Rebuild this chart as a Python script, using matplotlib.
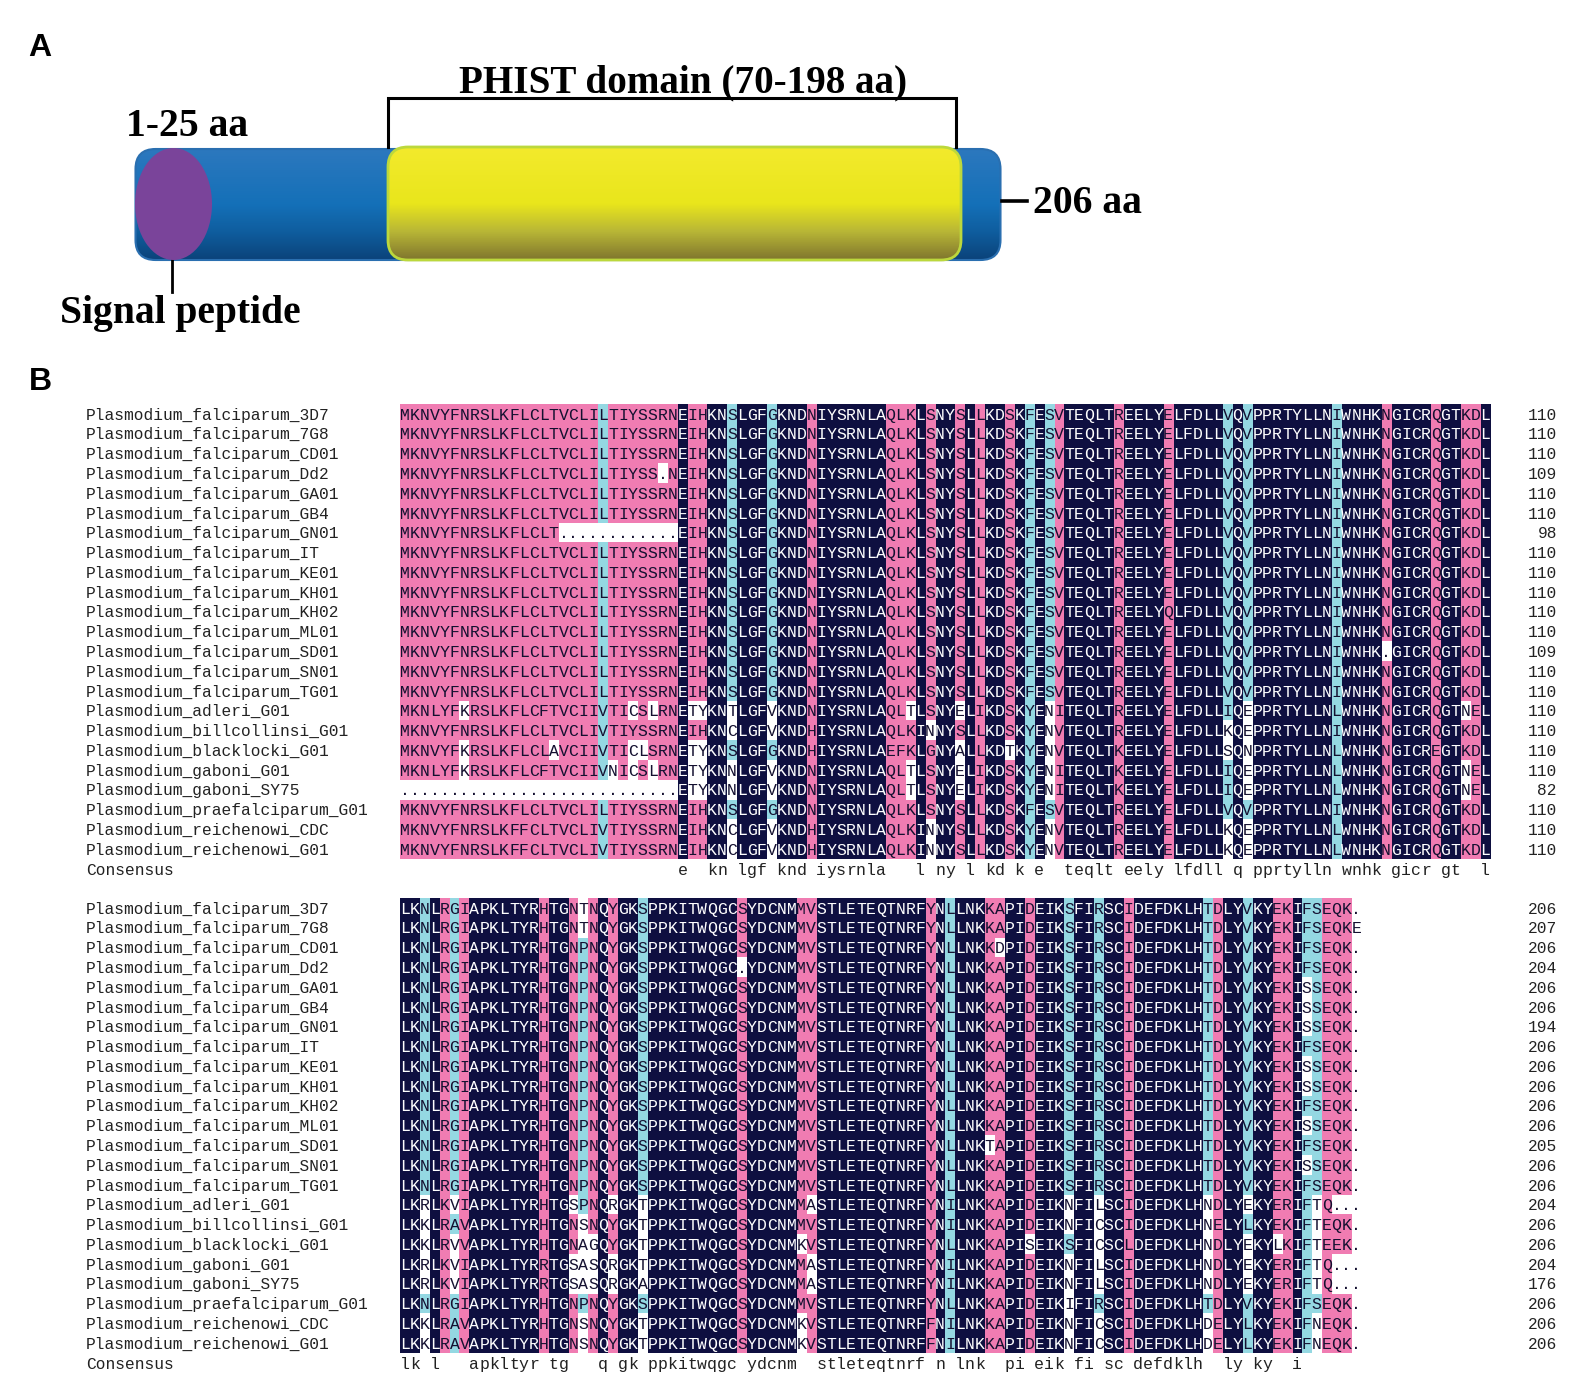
import numpy as np
import matplotlib
matplotlib.use("Agg")
import matplotlib.pyplot as plt
from matplotlib.colors import ListedColormap, LinearSegmentedColormap
from matplotlib.patches import FancyBboxPatch, Ellipse
from collections import Counter

W, H = 1579, 1392

names = ["Plasmodium_falciparum_3D7", "Plasmodium_falciparum_7G8", "Plasmodium_falciparum_CD01",
         "Plasmodium_falciparum_Dd2", "Plasmodium_falciparum_GA01", "Plasmodium_falciparum_GB4",
         "Plasmodium_falciparum_GN01", "Plasmodium_falciparum_IT", "Plasmodium_falciparum_KE01",
         "Plasmodium_falciparum_KH01", "Plasmodium_falciparum_KH02", "Plasmodium_falciparum_ML01",
         "Plasmodium_falciparum_SD01", "Plasmodium_falciparum_SN01", "Plasmodium_falciparum_TG01",
         "Plasmodium_adleri_G01", "Plasmodium_billcollinsi_G01", "Plasmodium_blacklocki_G01",
         "Plasmodium_gaboni_G01", "Plasmodium_gaboni_SY75", "Plasmodium_praefalciparum_G01",
         "Plasmodium_reichenowi_CDC", "Plasmodium_reichenowi_G01"]

seqs_1 = [
    "MKNVYFNRSLKFLCLTVCLILTIYSSRNEIHKNSLGFGKNDNIYSRNLAQLKLSNYSLLKDSKFESVTEQLTREELYELFDLLVQVPPRTYLLNIWNHKNGICRQGTKDL",
    "MKNVYFNRSLKFLCLTVCLILTIYSSRNEIHKNSLGFGKNDNIYSRNLAQLKLSNYSLLKDSKFESVTEQLTREELYELFDLLVQVPPRTYLLNIWNHKNGICRQGTKDL",
    "MKNVYFNRSLKFLCLTVCLILTIYSSRNEIHKNSLGFGKNDNIYSRNLAQLKLSNYSLLKDSKFESVTEQLTREELYELFDLLVQVPPRTYLLNIWNHKNGICRQGTKDL",
    "MKNVYFNRSLKFLCLTVCLILTIYSS.NEIHKNSLGFGKNDNIYSRNLAQLKLSNYSLLKDSKFESVTEQLTREELYELFDLLVQVPPRTYLLNIWNHKNGICRQGTKDL",
    "MKNVYFNRSLKFLCLTVCLILTIYSSRNEIHKNSLGFGKNDNIYSRNLAQLKLSNYSLLKDSKFESVTEQLTREELYELFDLLVQVPPRTYLLNIWNHKNGICRQGTKDL",
    "MKNVYFNRSLKFLCLTVCLILTIYSSRNEIHKNSLGFGKNDNIYSRNLAQLKLSNYSLLKDSKFESVTEQLTREELYELFDLLVQVPPRTYLLNIWNHKNGICRQGTKDL",
    "MKNVYFNRSLKFLCLT............EIHKNSLGFGKNDNIYSRNLAQLKLSNYSLLKDSKFESVTEQLTREELYELFDLLVQVPPRTYLLNIWNHKNGICRQGTKDL",
    "MKNVYFNRSLKFLCLTVCLILTIYSSRNEIHKNSLGFGKNDNIYSRNLAQLKLSNYSLLKDSKFESVTEQLTREELYELFDLLVQVPPRTYLLNIWNHKNGICRQGTKDL",
    "MKNVYFNRSLKFLCLTVCLILTIYSSRNEIHKNSLGFGKNDNIYSRNLAQLKLSNYSLLKDSKFESVTEQLTREELYELFDLLVQVPPRTYLLNIWNHKNGICRQGTKDL",
    "MKNVYFNRSLKFLCLTVCLILTIYSSRNEIHKNSLGFGKNDNIYSRNLAQLKLSNYSLLKDSKFESVTEQLTREELYELFDLLVQVPPRTYLLNIWNHKNGICRQGTKDL",
    "MKNVYFNRSLKFLCLTVCLILTIYSSRNEIHKNSLGFGKNDNIYSRNLAQLKLSNYSLLKDSKFESVTEQLTREELYQLFDLLVQVPPRTYLLNIWNHKNGICRQGTKDL",
    "MKNVYFNRSLKFLCLTVCLILTIYSSRNEIHKNSLGFGKNDNIYSRNLAQLKLSNYSLLKDSKFESVTEQLTREELYELFDLLVQVPPRTYLLNIWNHKNGICRQGTKDL",
    "MKNVYFNRSLKFLCLTVCLILTIYSSRNEIHKNSLGFGKNDNIYSRNLAQLKLSNYSLLKDSKFESVTEQLTREELYELFDLLVQVPPRTYLLNIWNHK.GICRQGTKDL",
    "MKNVYFNRSLKFLCLTVCLILTIYSSRNEIHKNSLGFGKNDNIYSRNLAQLKLSNYSLLKDSKFESVTEQLTREELYELFDLLVQVPPRTYLLNIWNHKNGICRQGTKDL",
    "MKNVYFNRSLKFLCLTVCLILTIYSSRNEIHKNSLGFGKNDNIYSRNLAQLKLSNYSLLKDSKFESVTEQLTREELYELFDLLVQVPPRTYLLNIWNHKNGICRQGTKDL",
    "MKNLYFKRSLKFLCFTVCIIVTICSLRNETYKNTLGFVKNDNIYSRNLAQLTLSNYELIKDSKYENITEQLTREELYELFDLLIQEPPRTYLLNLWNHKNGICRQGTNEL",
    "MKNVYFNRSLKFLCLTVCLIVTIYSSRNEIHKNCLGFVKNDHIYSRNLAQLKINNYSLLKDSKYENVTEQLTREELYELFDLLKQEPPRTYLLNIWNHKNGICRQGTKDL",
    "MKNVYFKRSLKFLCLAVCIIVTICLSRNETYKNSLGFGKNDHIYSRNLAEFKLGNYALLKDTKYENVTEQLTKEELYELFDLLSQNPPRTYLLNLWNHKNGICREGTKDL",
    "MKNLYFKRSLKFLCFTVCIIVNICSLRNETYKNNLGFVKNDNIYSRNLAQLTLSNYELIKDSKYENITEQLTKEELYELFDLLIQEPPRTYLLNLWNHKNGICRQGTNEL",
    "............................ETYKNNLGFVKNDNIYSRNLAQLTLSNYELIKDSKYENITEQLTKEELYELFDLLIQEPPRTYLLNLWNHKNGICRQGTNEL",
    "MKNVYFNRSLKFLCLTVCLILTIYSSRNEIHKNSLGFGKNDNIYSRNLAQLKLSNYSLLKDSKFESVTEQLTREELYELFDLLVQVPPRTYLLNIWNHKNGICRQGTKDL",
    "MKNVYFNRSLKFFCLTVCLIVTIYSSRNEIHKNCLGFVKNDHIYSRNLAQLKINNYSLLKDSKYENVTEQLTREELYELFDLLKQEPPRTYLLNLWNHKNGICRQGTKDL",
    "MKNVYFNRSLKFFCLTVCLIVTIYSSRNEIHKNCLGFVKNDHIYSRNLAQLKINNYSLLKDSKYENVTEQLTREELYELFDLLKQEPPRTYLLNLWNHKNGICRQGTKDL",
]

seqs_2 = [
    "LKNLRGIAPKLTYRHTGNTNQYGKSPPKITWQGCSYDCNMMVSTLETEQTNRFYNLLNKKAPIDEIKSFIRSCIDEFDKLHTDLYVKYEKIFSEQK.",
    "LKNLRGIAPKLTYRHTGNTNQYGKSPPKITWQGCSYDCNMMVSTLETEQTNRFYNLLNKKAPIDEIKSFIRSCIDEFDKLHTDLYVKYEKIFSEQKE",
    "LKNLRGIAPKLTYRHTGNPNQYGKSPPKITWQGCSYDCNMMVSTLETEQTNRFYNLLNKKDPIDEIKSFIRSCIDEFDKLHTDLYVKYEKIFSEQK.",
    "LKNLRGIAPKLTYRHTGNPNQYGKSPPKITWQGC.YDCNMMVSTLETEQTNRFYNLLNKKAPIDEIKSFIRSCIDEFDKLHTDLYVKYEKIFSEQK.",
    "LKNLRGIAPKLTYRHTGNPNQYGKSPPKITWQGCSYDCNMMVSTLETEQTNRFYNLLNKKAPIDEIKSFIRSCIDEFDKLHTDLYVKYEKISSEQK.",
    "LKNLRGIAPKLTYRHTGNPNQYGKSPPKITWQGCSYDCNMMVSTLETEQTNRFYNLLNKKAPIDEIKSFIRSCIDEFDKLHTDLYVKYEKISSEQK.",
    "LKNLRGIAPKLTYRHTGNPNQYGKSPPKITWQGCSYDCNMMVSTLETEQTNRFYNLLNKKAPIDEIKSFIRSCIDEFDKLHTDLYVKYEKISSEQK.",
    "LKNLRGIAPKLTYRHTGNPNQYGKSPPKITWQGCSYDCNMMVSTLETEQTNRFYNLLNKKAPIDEIKSFIRSCIDEFDKLHTDLYVKYEKIFSEQK.",
    "LKNLRGIAPKLTYRHTGNPNQYGKSPPKITWQGCSYDCNMMVSTLETEQTNRFYNLLNKKAPIDEIKSFIRSCIDEFDKLHTDLYVKYEKISSEQK.",
    "LKNLRGIAPKLTYRHTGNPNQYGKSPPKITWQGCSYDCNMMVSTLETEQTNRFYNLLNKKAPIDEIKSFIRSCIDEFDKLHTDLYVKYEKISSEQK.",
    "LKNLRGIAPKLTYRHTGNPNQYGKSPPKITWQGCSYDCNMMVSTLETEQTNRFYNLLNKKAPIDEIKSFIRSCIDEFDKLHTDLYVKYEKIFSEQK.",
    "LKNLRGIAPKLTYRHTGNPNQYGKSPPKITWQGCSYDCNMMVSTLETEQTNRFYNLLNKKAPIDEIKSFIRSCIDEFDKLHTDLYVKYEKISSEQK.",
    "LKNLRGIAPKLTYRHTGNPNQYGKSPPKITWQGCSYDCNMMVSTLETEQTNRFYNLLNKTAPIDEIKSFIRSCIDEFDKLHTDLYVKYEKIFSEQK.",
    "LKNLRGIAPKLTYRHTGNPNQYGKSPPKITWQGCSYDCNMMVSTLETEQTNRFYNLLNKKAPIDEIKSFIRSCIDEFDKLHTDLYVKYEKISSEQK.",
    "LKNLRGIAPKLTYRHTGNPNQYGKSPPKITWQGCSYDCNMMVSTLETEQTNRFYNLLNKKAPIDEIKSFIRSCIDEFDKLHTDLYVKYEKIFSEQK.",
    "LKRLKVIAPKLTYRHTGSPNQRGKTPPKITWQGCSYDCNMMASTLETEQTNRFYNILNKKAPIDEIKNFILSCIDEFDKLHNDLYEKYERIFTQ...",
    "LKKLRAVAPKLTYRHTGNSNQYGKTPPKITWQGCSYDCNMMVSTLETEQTNRFYNILNKKAPIDEIKNFICSCIDEFDKLHNELYLKYEKIFTEQK.",
    "LKKLRVVAPKLTYRHTGNAGQYGKTPPKITWQGCSYDCNMKVSTLETEQTNRFYNLLNKKAPISEIKSFICSCLDEFDKLHNDLYEKYLKIFTEEK.",
    "LKRLKVIAPKLTYRRTGSASQRGKTPPKITWQGCSYDCNMMASTLETEQTNRFYNILNKKAPIDEIKNFILSCIDEFDKLHNDLYEKYERIFTQ...",
    "LKRLKVIAPKLTYRRTGSASQRGKAPPKITWQGCSYDCNMMASTLETEQTNRFYNILNKKAPIDEIKNFILSCIDEFDKLHNDLYEKYERIFTQ...",
    "LKNLRGIAPKLTYRHTGNPNQYGKSPPKITWQGCSYDCNMMVSTLETEQTNRFYNLLNKKAPIDEIKIFIRSCIDEFDKLHTDLYVKYEKIFSEQK.",
    "LKKLRAVAPKLTYRHTGNSNQYGKTPPKITWQGCSYDCNMKVSTLETEQTNRFFNILNKKAPIDEIKNFICSCIDEFDKLHDELYLKYEKIFNEQK.",
    "LKKLRAVAPKLTYRHTGNSNQYGKTPPKITWQGCSYDCNMKVSTLETEQTNRFFNILNKKAPIDEIKNFICSCIDEFDKLHDELYLKYEKIFNEQK.",
]

counts_1 = [110, 110, 110, 109, 110, 110, 98, 110, 110, 110, 110, 110, 109, 110, 110, 110, 110, 110, 110, 82, 110, 110, 110]
counts_2 = [206, 207, 206, 204, 206, 206, 194, 206, 206, 206, 206, 206, 205, 206, 206, 204, 206, 206, 204, 176, 206, 206, 206]

# residues shaded together with the commonest one in a column
similar = {"F": "Y", "Y": "F", "N": "H", "H": "R", "R": "K", "K": "R", "L": "FVIM", "V": "LI",
           "I": "LV", "G": "A", "E": "Q", "Q": "E", "D": "E", "S": "G"}

# columns drawn as fully conserved although one residue differs (1-based)
navy_cols_1 = [53]
navy_cols_2 = []

shade = ["#FFFFFF", "#94D8E2", "#F07CB2", "#0E0F40"]
levels_cmap = ListedColormap(shade)


def shade_levels(seqs, navy_cols):
    grid = np.array([list(s) for s in seqs])
    levels = np.zeros(grid.shape, dtype=int)
    consensus = ""
    for c in range(grid.shape[1]):
        col = grid[:, c]
        found = Counter(x for x in col if x != ".")
        top, n = found.most_common(1)[0]
        frac = n / len(col)
        if frac == 1 or c + 1 in navy_cols:
            levels[:, c] = 3
            consensus += top.lower()
            continue
        consensus += " "
        if frac < 0.4:
            continue
        lev = 2 if frac >= 0.75 else 1
        for r, x in enumerate(col):
            if x == top or x in similar.get(top, ""):
                levels[r, c] = lev
    return grid, levels, consensus


def draw_block(seqs, counts, navy_cols, top_px):
    grid, levels, consensus = shade_levels(seqs, navy_cols)
    nrow, ncol = grid.shape
    cw, rh = 9.91, 19.78
    ax = fig.add_axes([400 / W, 1 - (top_px + nrow * rh) / H, ncol * cw / W, nrow * rh / H])
    ax.imshow(levels, cmap=levels_cmap, vmin=0, vmax=3, aspect="auto", interpolation="nearest",
              extent=(0, ncol, nrow, 0))
    ax.axis("off")
    cell = dict(family="Liberation Mono", fontsize=11.9, va="baseline")
    side = dict(family="Liberation Mono", fontsize=11.7, va="baseline", color="#222222")
    name_x = (86 - 400) / cw
    count_x = (1557 - 400) / cw
    base = 0.79  # text baseline inside a row
    for r in range(nrow):
        ax.text(name_x, r + base, names[r], ha="left", **side)
        ax.text(count_x, r + base, str(counts[r]), ha="right", **side)
        for c in range(ncol):
            col = "white" if levels[r, c] == 3 else "#141030"
            ax.text(c + 0.5, r + base, grid[r, c], ha="center", color=col, **cell)
    ax.text(name_x, nrow + base, "Consensus", ha="left", **side)
    for c, ch in enumerate(consensus):
        if ch != " ":
            ax.text(c + 0.5, nrow + base, ch, ha="center", family="Liberation Mono",
                    fontsize=11.9, va="baseline", color="#222222")


fig = plt.figure(figsize=(W / 100, H / 100), dpi=100)

# panel A drawn on a pixel grid
ax_a = fig.add_axes([0, 0, 1, 1])
ax_a.set_xlim(0, W)
ax_a.set_ylim(H, 0)
ax_a.axis("off")

blue = LinearSegmentedColormap.from_list("blue", [(0, "#2C78BE"), (0.5, "#1470B8"), (0.75, "#0F5D9E"), (1, "#0B437A")])
yellow = LinearSegmentedColormap.from_list("yellow", [(0, "#F3EA2C"), (0.5, "#E9E61C"), (0.75, "#B8B636"), (1, "#80762E")])
ramp = np.linspace(0, 1, 200)[:, None]

bar = FancyBboxPatch((135.5, 149), 865, 111, boxstyle="round,pad=0,rounding_size=20",
                     fc="none", ec="#2A6FB0", lw=1.5, zorder=3)
ax_a.add_patch(bar)
im = ax_a.imshow(ramp, cmap=blue, extent=(135.5, 1000.5, 260, 149), aspect="auto", zorder=2)
im.set_clip_path(bar)

dom = FancyBboxPatch((388, 147), 573, 113, boxstyle="round,pad=0,rounding_size=20",
                     fc="none", ec="#BCD83C", lw=2, zorder=5)
ax_a.add_patch(dom)
im2 = ax_a.imshow(ramp, cmap=yellow, extent=(388, 961, 260, 147), aspect="auto", zorder=4)
im2.set_clip_path(dom)

ax_a.add_patch(Ellipse((173.5, 204), 77, 112, fc="#7A449A", ec="none", zorder=6))
ax_a.set_xlim(0, W)
ax_a.set_ylim(H, 0)

ax_a.plot([388, 388, 956, 956], [147, 98, 98, 147], color="black", lw=2.2, solid_joinstyle="miter", zorder=3)
ax_a.plot([172, 172], [260, 292], color="black", lw=2, zorder=3)
ax_a.plot([1002, 1027], [201, 201], color="black", lw=2.6, zorder=3)

serif = dict(family="Liberation Serif", fontweight="bold", color="black", va="baseline")
ax_a.text(459, 92, "PHIST domain (70-198 aa)", ha="left", fontsize=28.2, **serif)
ax_a.text(126, 136, "1-25 aa", ha="left", fontsize=28.5, **serif)
ax_a.text(60, 323, "Signal peptide", ha="left", fontsize=28.5, **serif)
ax_a.text(1033, 213, "206 aa", ha="left", fontsize=28.5, **serif)

letter = dict(family="Liberation Sans", fontweight="bold", fontsize=23, color="black", va="baseline")
ax_a.text(28, 56, "A", ha="left", **letter)
ax_a.text(29, 390, "B", ha="left", **letter)

draw_block(seqs_1, counts_1, navy_cols_1, 404)
draw_block(seqs_2, counts_2, navy_cols_2, 898)

fig.savefig("out.png", dpi=100)
